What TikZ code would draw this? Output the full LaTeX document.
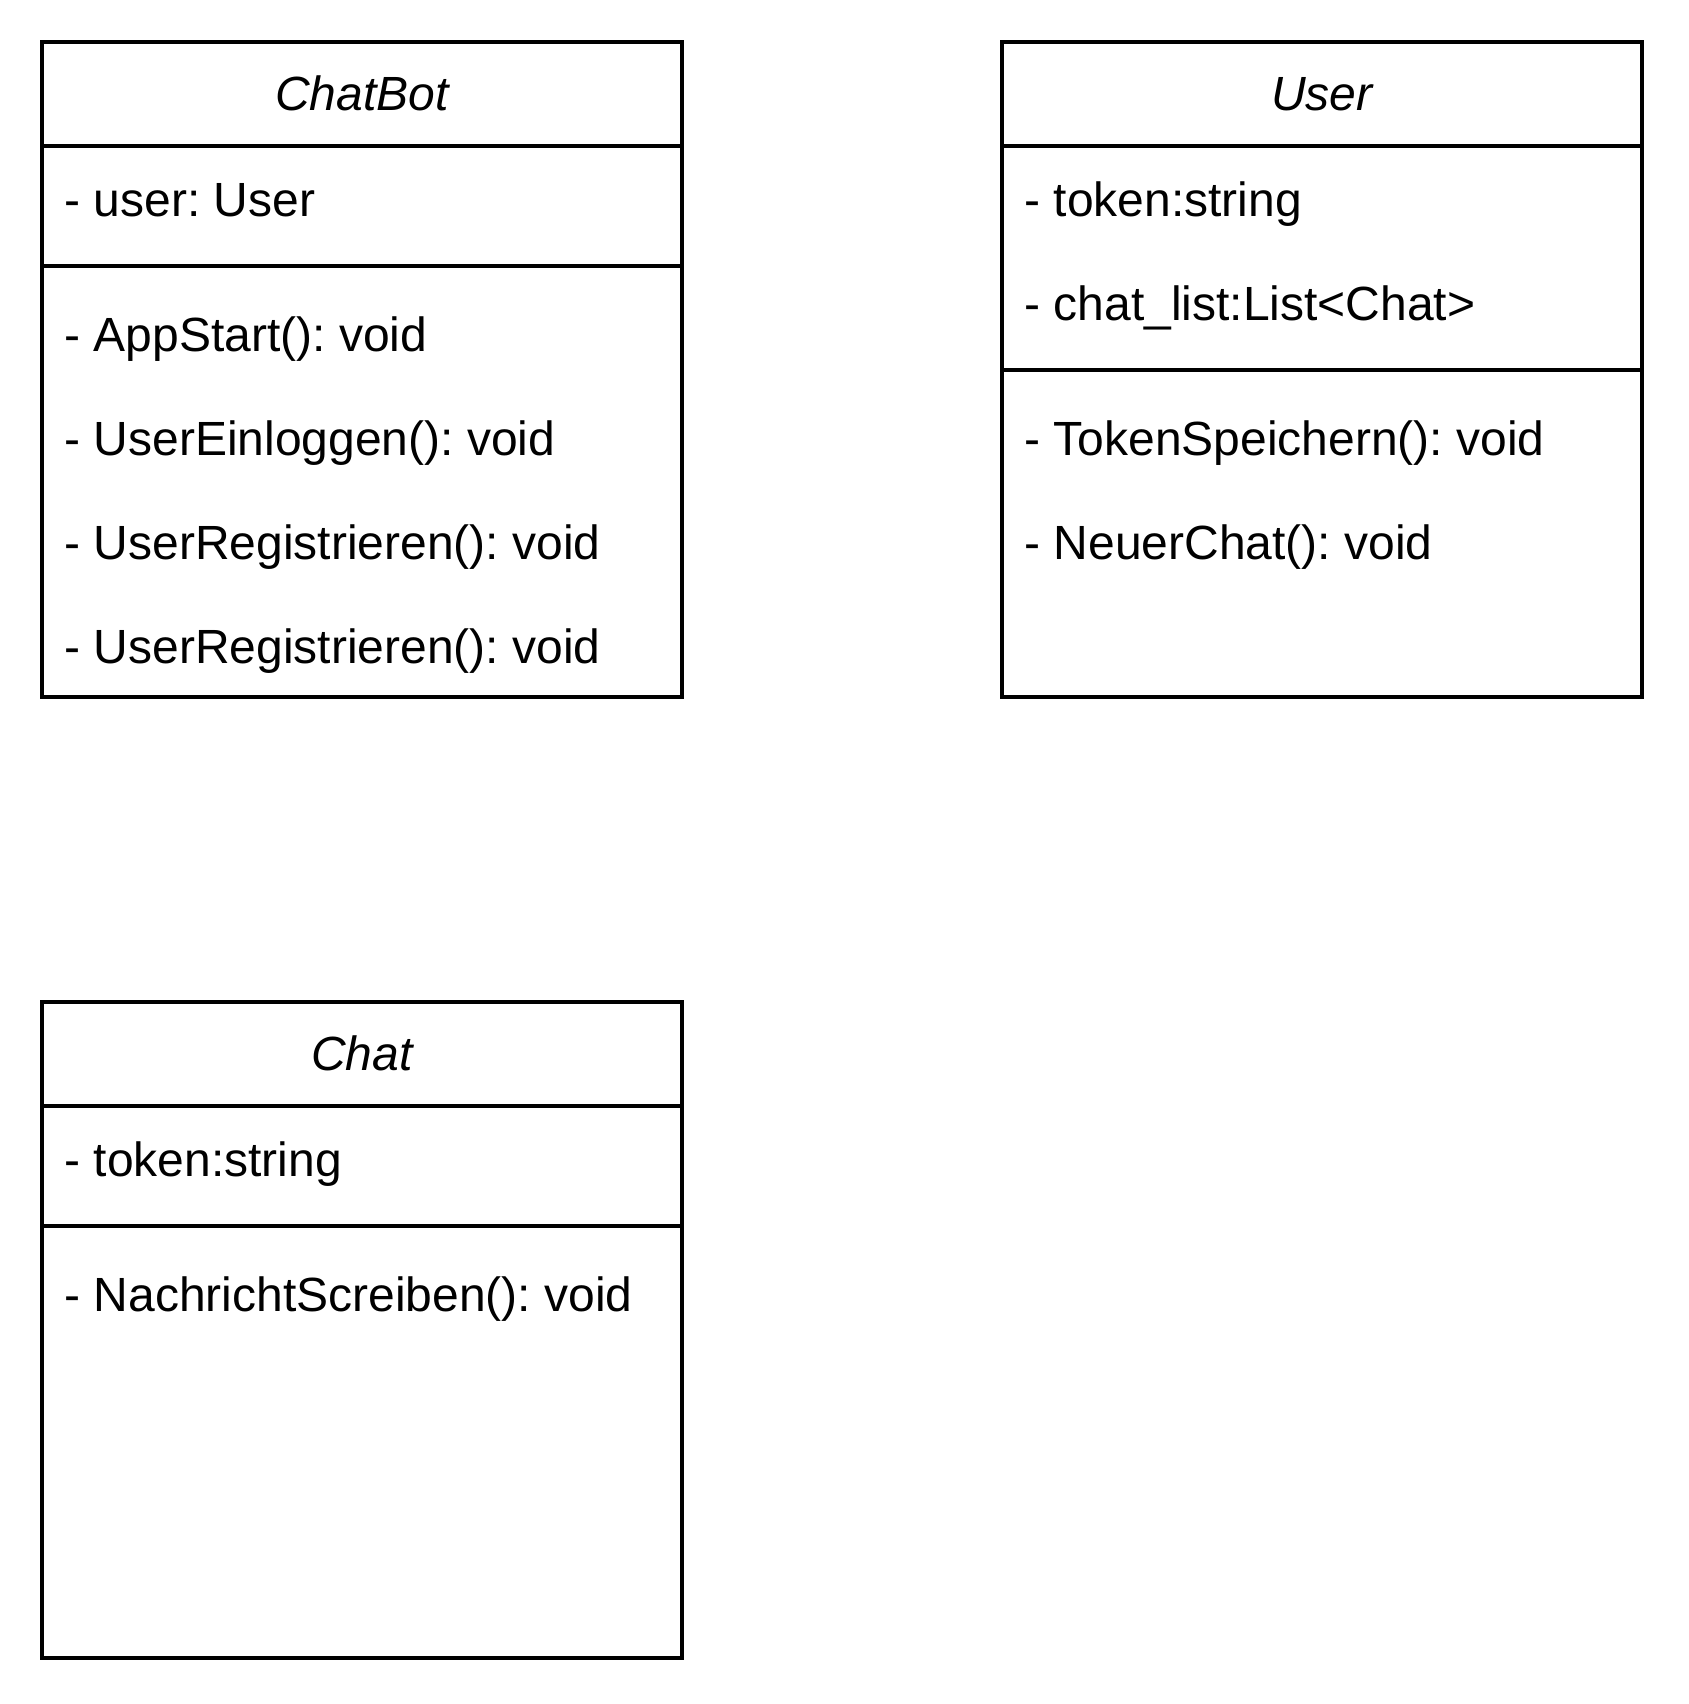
\documentclass[tikz,border=0pt]{standalone}
\usepackage{fontspec}
\setmainfont{Liberation Sans}
\frenchspacing
\begin{document}
\begin{tikzpicture}[x=0.5pt,y=-0.5pt,
    classbox/.style={draw=black,line width=2pt},
    classname/.style={font=\fontsize{24pt}{28pt}\selectfont\itshape,anchor=base,inner sep=0pt},
    member/.style={font=\fontsize{24pt}{28pt}\selectfont,anchor=base west,inner sep=0pt}]
    \useasboundingbox (0,0) rectangle (1688,1704);
    \draw [classbox] (42,42) rectangle (682,697);
    \draw [classbox] (42,146) -- (682,146);
    \draw [classbox] (42,266) -- (682,266);
    \node [classname] (chatbot) at (362,110) {ChatBot};
    \node [member] (chatbot-a1) at (64,216) {- user: User};
    \node [member] (chatbot-m1) at (64,351) {- AppStart(): void};
    \node [member] (chatbot-m2) at (64,455) {- UserEinloggen(): void};
    \node [member] (chatbot-m3) at (64,559) {- UserRegistrieren(): void};
    \node [member] (chatbot-m4) at (64,663) {- UserRegistrieren(): void};
    \draw [classbox] (1002,42) rectangle (1642,697);
    \draw [classbox] (1002,146) -- (1642,146);
    \draw [classbox] (1002,370) -- (1642,370);
    \node [classname] (user) at (1322,110) {User};
    \node [member] (user-a1) at (1024,216) {- token:string};
    \node [member] (user-a2) at (1024,320) {- chat\_list:List<Chat>};
    \node [member] (user-m1) at (1024,455) {- TokenSpeichern(): void};
    \node [member] (user-m2) at (1024,559) {- NeuerChat(): void};
    \draw [classbox] (42,1002) rectangle (682,1658);
    \draw [classbox] (42,1106) -- (682,1106);
    \draw [classbox] (42,1226) -- (682,1226);
    \node [classname] (chat) at (362,1070) {Chat};
    \node [member] (chat-a1) at (64,1176) {- token:string};
    \node [member] (chat-m1) at (64,1311) {- NachrichtScreiben(): void};
\end{tikzpicture}
\end{document}
